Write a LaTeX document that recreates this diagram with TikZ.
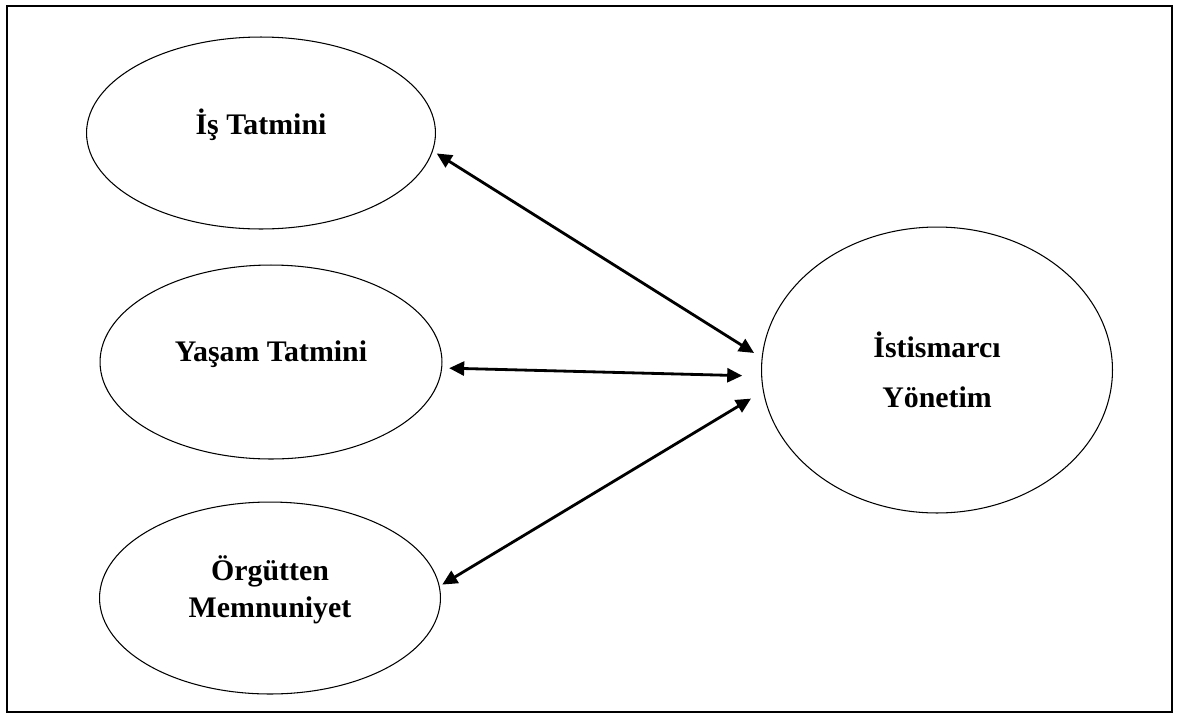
\documentclass[tikz,border=0pt]{standalone}
\usepackage{fontspec}
\setmainfont{Liberation Serif}
\usepackage{tikz}
\usetikzlibrary{shapes.geometric,arrows.meta,positioning}

\begin{document}
\begin{tikzpicture}[x=0.02cm,y=-0.02cm,
  oval/.style={ellipse,draw,line width=0.6pt,inner sep=0pt,align=center,
    font=\fontsize{17}{20.4}\selectfont\bfseries},
  link/.style={{Triangle[length=0.3cm,width=0.28cm]}-{Triangle[length=0.3cm,width=0.28cm]},line width=1.6pt}]
             \useasboundingbox (0,0) rectangle (1179,714);
             \draw[line width=1.3pt] (7,6) rectangle (1172,712);
             \node[oval,text depth=0.45cm,minimum width=6.98cm,minimum height=3.84cm] (is) at (261,133) {İş Tatmini};
             \node[oval,text depth=0.45cm,minimum width=6.84cm,minimum height=3.88cm] (yasam) at (271,362) {Yaşam Tatmini};
             \node[oval,text depth=0.45cm,minimum width=6.82cm,minimum height=3.84cm] (orgut) at (270,598) {Örgütten\\[0.6pt]Memnuniyet};
             \node[oval,minimum width=7.02cm,minimum height=5.72cm] (ist) at (937,370) {İstismarcı\\[8.1pt]Yönetim};
             \draw[link,shorten <=0.09cm,shorten >=0.18cm] (is.-6.4) -- (ist.176.3);
             \draw[link,shorten <=0.14cm,shorten >=0.38cm] (yasam.-2.4) -- (ist.182.4);
             \draw[link,shorten <=0.06cm,shorten >=0.28cm] (orgut.4.9) -- (ist.187.6);
           \end{tikzpicture}
\end{document}
